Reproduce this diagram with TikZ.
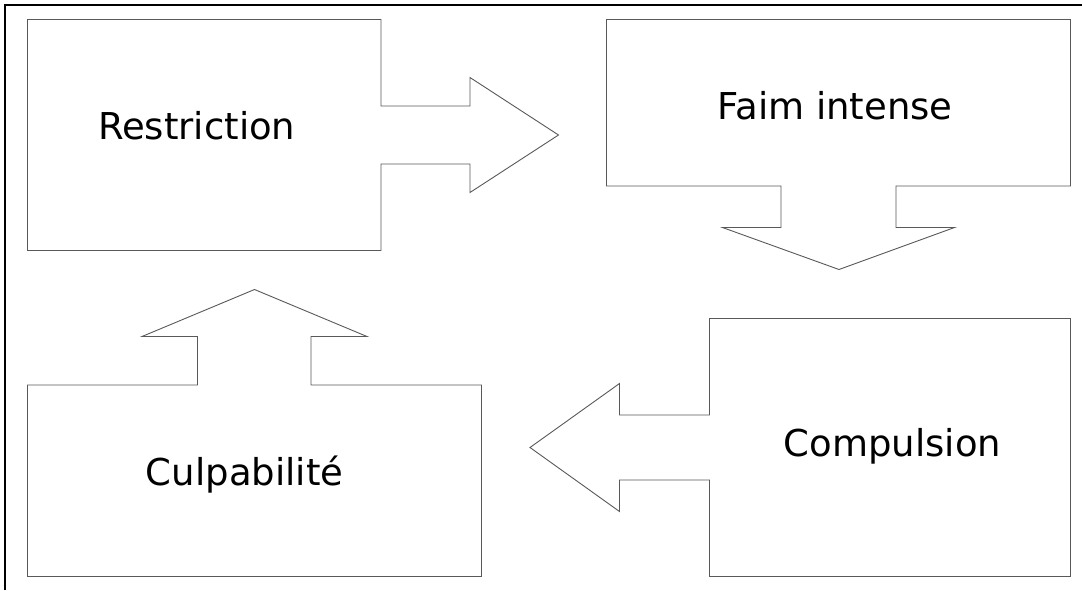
\documentclass[tikz,border=0pt]{standalone}
\usepackage{fontspec}
\setmainfont{DejaVu Sans}
\begin{document}
\begin{tikzpicture}[x=1pt,y=-1pt,
  callout/.style={draw=black!65,line width=0.9pt,line join=miter,fill=white},
  frameline/.style={draw=black,line width=2.2pt},
  label/.style={anchor=base,inner sep=0pt,font=\fontsize{37}{40}\selectfont}]
\useasboundingbox (0,0) rectangle (1082,590);
% outer frame (top and left edges)
\draw[frameline] (1082,5) -- (5,5) -- (5,590);
% Restriction box with right-pointing arrow
\draw[callout] (27.5,19.5) -- (381,19.5) -- (381,106) -- (470,106) -- (470,77.5)
  -- (558.5,135) -- (470,192.5) -- (470,164) -- (381,164) -- (381,250.5)
  -- (27.5,250.5) -- cycle;
% Faim intense box with downward arrow
\draw[callout] (606.5,19.5) -- (1070.5,19.5) -- (1070.5,186) -- (896,186) -- (896,227.5)
  -- (954.5,227.5) -- (839,269.5) -- (722.5,227.5) -- (781,227.5) -- (781,186)
  -- (606.5,186) -- cycle;
% Compulsion box with left-pointing arrow
\draw[callout] (709.5,318.5) -- (1070.5,318.5) -- (1070.5,576.5) -- (709.5,576.5)
  -- (709.5,480) -- (619.5,480) -- (619.5,511.5) -- (530,447.5) -- (619.5,383.5)
  -- (619.5,415) -- (709.5,415) -- cycle;
% Culpabilite box with upward arrow
\draw[callout] (27.5,385) -- (197.5,385) -- (197.5,336.5) -- (142,336.5) -- (254.5,289.5)
  -- (367,336.5) -- (311,336.5) -- (311,385) -- (481.5,385) -- (481.5,576.5)
  -- (27.5,576.5) -- cycle;
% labels
\node[label] (restriction) at (196.7,139) {Restriction};
\node[label] (faim) at (835,119) {Faim intense};
\node[label] (compulsion) at (892.5,456.7) {Compulsion};
\node[label] (culpabilite) at (244.6,485) {Culpabilité};
\end{tikzpicture}
\end{document}
